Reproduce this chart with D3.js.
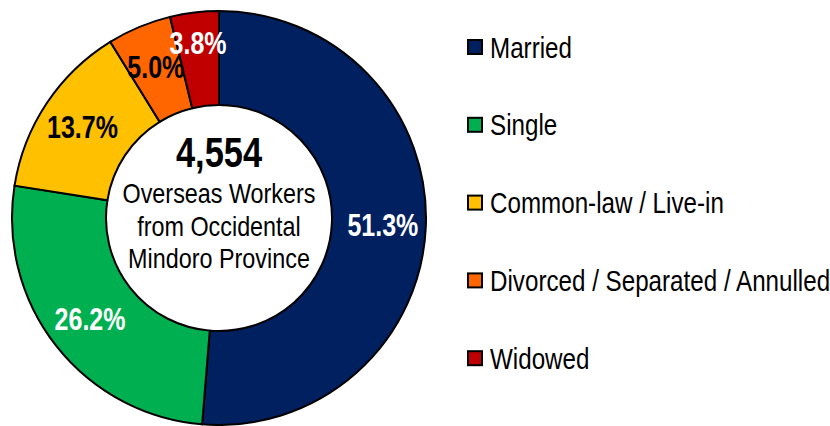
<!DOCTYPE html>
<html>
<head>
<meta charset="utf-8">
<script src="https://cdn.jsdelivr.net/npm/d3@7"></script>
<style>
  body { margin: 0; background: #fff; }
  text { font-family: "Liberation Sans", Arial, sans-serif; }
</style>
</head>
<body>
<script>
var width = 830, height = 426;

// data
var categories = ["Married", "Single", "Common-law / Live-in", "Divorced / Separated / Annulled", "Widowed"];
var shares = [51.3, 26.2, 13.7, 5.0, 3.8];
var colors = ["#002060", "#00B050", "#FFC000", "#FF6600", "#C00000"];
var labelColors = ["#fff", "#fff", "#000", "#000", "#fff"];
var total = "4,554";
var centerLines = ["Overseas Workers", "from Occidental", "Mindoro Province"];

var cx = 219, cy = 218, rOuter = 207, rInner = 113;
var narrow = 0.82; // mimic Arial Narrow by squeezing the text horizontally

var svg = d3.select("body").append("svg")
  .attr("width", width)
  .attr("height", height);

var data = categories.map(function (c, i) {
  return { name: c, value: shares[i], color: colors[i], label: labelColors[i] };
});

var pie = d3.pie().sort(null).value(function (d) { return d.value; });
var arc = d3.arc().innerRadius(rInner).outerRadius(rOuter);

var g = svg.append("g").attr("transform", "translate(" + cx + "," + cy + ")");

var arcs = pie(data);

g.selectAll("path")
  .data(arcs)
  .enter()
  .append("path")
  .attr("d", arc)
  .attr("fill", function (d) { return d.data.color; })
  .attr("stroke", "#000")
  .attr("stroke-width", 2);

// thin slices get their label pushed a bit outward
function labelPos(d) {
  var r = d.data.value < 4.5 ? 176 : 164;
  return d3.arc().innerRadius(r).outerRadius(r).centroid(d);
}

g.selectAll("text.pct")
  .data(arcs)
  .enter()
  .append("text")
  .attr("class", "pct")
  .attr("transform", function (d) {
    return "translate(" + labelPos(d) + ") scale(" + narrow + ",1)";
  })
  .attr("dy", "0.36em")
  .attr("text-anchor", "middle")
  .style("font-size", "30.5px")
  .style("font-weight", "bold")
  .style("fill", function (d) { return d.data.label; })
  .text(function (d) { return d.data.value.toFixed(1) + "%"; });

// center text
g.append("text")
  .attr("transform", "translate(0,-51) scale(" + narrow + ",1)")
  .attr("text-anchor", "middle")
  .style("font-size", "42px")
  .style("font-weight", "bold")
  .text(total);

g.selectAll("text.sub")
  .data(centerLines)
  .enter()
  .append("text")
  .attr("class", "sub")
  .attr("transform", function (d, i) {
    return "translate(0," + (-15 + i * 32.5) + ") scale(" + narrow + ",1)";
  })
  .attr("text-anchor", "middle")
  .style("font-size", "28.5px")
  .text(function (d) { return d; });

// legend
var legend = svg.append("g").attr("transform", "translate(467,0)");
var item = legend.selectAll("g")
  .data(data)
  .enter()
  .append("g")
  .attr("transform", function (d, i) { return "translate(0," + (47 + i * 77.8) + ")"; });

item.append("rect")
  .attr("x", 1)
  .attr("y", -7)
  .attr("width", 14)
  .attr("height", 14)
  .attr("fill", function (d) { return d.color; })
  .attr("stroke", "#000")
  .attr("stroke-width", 2);

item.append("text")
  .attr("transform", "translate(23,0) scale(" + narrow + ",1)")
  .attr("dy", "0.36em")
  .style("font-size", "29.5px")
  .text(function (d) { return d.name; });
</script>
</body>
</html>
